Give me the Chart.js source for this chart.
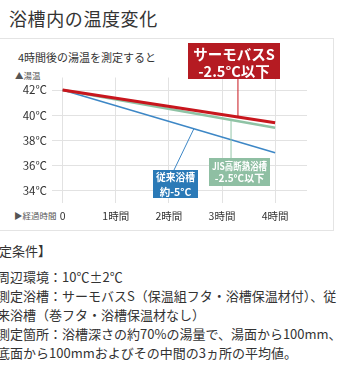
<!DOCTYPE html>
<html>
<head>
<meta charset="utf-8">
<script src="https://cdn.jsdelivr.net/npm/chart.js@4"></script>
<style>
  html,body{margin:0;padding:0;background:#fff;}
  body{width:355px;height:368px;position:relative;overflow:hidden;font-family:"Noto Sans CJK JP","Noto Sans",sans-serif;color:#333;}
  .abs{position:absolute;white-space:nowrap;line-height:1;}
  #frame{position:absolute;left:-1px;top:38px;width:335px;height:193px;border:1px solid #e4e4e4;box-sizing:border-box;}
  #title{left:9px;top:9px;font-size:18px;letter-spacing:0.6px;color:#333;}
  #sub{left:18px;top:52px;font-size:11px;color:#333;}
  #yname{left:15px;top:71px;font-size:8.5px;color:#555;}
  #xname{left:14px;top:211px;font-size:8.5px;color:#555;}
  canvas{position:absolute;left:0;top:0;}
  .note{position:absolute;white-space:nowrap;font-size:13px;line-height:1;color:#333;}
</style>
</head>
<body>
<div id="frame"></div>
<div class="abs" id="title">浴槽内の温度変化</div>
<div class="abs" id="sub">4時間後の湯温を測定すると</div>
<div class="abs" id="yname">▲湯温</div>
<div class="abs" id="xname">▶経過時間</div>
<canvas id="c" width="355" height="240"></canvas>
<div class="note" style="left:-27px;top:244px;">【測定条件】</div>
<div class="note" style="left:-3px;top:270px;">周辺環境：10℃±2℃</div>
<div class="note" style="left:-3px;top:289px;">測定浴槽：サーモバスS（保温組フタ・浴槽保温材付）、従</div>
<div class="note" style="left:-3px;top:308px;">来浴槽（巻フタ・浴槽保温材なし）</div>
<div class="note" style="left:-3px;top:327px;">測定箇所：浴槽深さの約70%の湯量で、湯面から100mm、</div>
<div class="note" style="left:-3px;top:346px;">底面から100mmおよびその中間の3ヵ所の平均値。</div>
<script>
// ---- data ----
const hours = [0, 4];
const thermoBath = [42, 39.4];     // サーモバスS
const jisBath = [42, 39.0];        // JIS高断熱浴槽
const conventional = [42, 37.0];   // 従来浴槽
const xTickValues = [0, 1, 2, 3, 4];
const xTickLabels = ['0', '1時間', '2時間', '3時間', '4時間'];
const yTickValues = [34, 36, 38, 40, 42];
const seriesNames = ['サーモバスS', 'JIS高断熱浴槽', '従来浴槽'];

const FONT = '"Noto Sans CJK JP","Noto Sans",sans-serif';

function pts(ys){ return hours.map((h,i)=>({x:h,y:ys[i]})); }
function interp(ys, x){
  const t = (x - hours[0]) / (hours[1] - hours[0]);
  return ys[0] + (ys[1] - ys[0]) * t;
}

const callouts = [
  {series: thermoBath, at: 3.3, box:[188,43,92,36], fill:'#b51b22', line:'#c8161d',
   texts:[['サーモバスS', 54.5],['-2.5°C以下', 71.5]], font:'bold 14.5px ', end:[null,79]},
  {series: jisBath, at: 3.17, box:[209,158,61,28], fill:'#8fbfa3', line:'#93c5a8',
   texts:[['JIS高断熱浴槽', 166.5],['-2.5°C以下', 178.5]], font:'bold 10px ', end:[null,158]},
  {series: conventional, at: 2.47, box:[153,170,45,28], fill:'#2b7ab7', line:'#3d87c6',
   texts:[['従来浴槽', 177.5],['約-5°C', 192]], font:'bold 10.5px ', end:[174,170]}
];

const calloutPlugin = {
  id:'callouts',
  afterDatasetsDraw(chart){
    const ctx = chart.ctx, xs = chart.scales.x, ys = chart.scales.y;
    ctx.save();
    callouts.forEach(c=>{
      const px = xs.getPixelForValue(c.at);
      const py = ys.getPixelForValue(interp(c.series, c.at));
      const ex = c.end[0] === null ? px : c.end[0];
      ctx.strokeStyle = c.line; ctx.lineWidth = 1;
      ctx.beginPath(); ctx.moveTo(px, py); ctx.lineTo(ex, c.end[1]); ctx.stroke();
      const [bx,by,bw,bh] = c.box;
      ctx.fillStyle = c.fill; ctx.fillRect(bx,by,bw,bh);
      ctx.fillStyle = '#fff'; ctx.textAlign='center'; ctx.textBaseline='middle';
      ctx.font = c.font + FONT;
      c.texts.forEach(([t,y])=>ctx.fillText(t, bx+bw/2, y, bw-6));
    });
    ctx.restore();
  }
};

new Chart(document.getElementById('c'), {
  type:'line',
  data:{
    datasets:[
      {label:seriesNames[0], data:pts(thermoBath), borderColor:'#c8161d', borderWidth:3, pointRadius:0, order:0},
      {label:seriesNames[1], data:pts(jisBath), borderColor:'#8fc3a5', borderWidth:2.5, pointRadius:0, order:1},
      {label:seriesNames[2], data:pts(conventional), borderColor:'#3d87c6', borderWidth:1.5, pointRadius:0, order:2}
    ]
  },
  options:{
    responsive:false, animation:false, devicePixelRatio:1,
    layout:{padding:{top:77.5, right:48, left:0, bottom:0}},
    plugins:{legend:{display:false}, tooltip:{enabled:false}},
    scales:{
      x:{type:'linear', min:-0.2, max:4.6,
        afterBuildTicks:s=>{s.ticks = xTickValues.map(v=>({value:v}));},
        afterFit:s=>{s.height = 37;},
        ticks:{autoSkip:false, maxRotation:0, padding:7, color:'#333',
          font:{family:FONT, size:10.5},
          callback:(v)=>{const i = xTickValues.indexOf(v); return i>=0 ? xTickLabels[i] : '';}},
        grid:{color:'#e2e2e2', drawTicks:false}, border:{display:false}},
      y:{min:33, max:43,
        afterBuildTicks:s=>{s.ticks = yTickValues.map(v=>({value:v}));},
        afterFit:s=>{s.width = 52;},
        ticks:{padding:5, color:'#333', font:{family:FONT, size:11.5},
          callback:v=>v+'℃'},
        grid:{color:'#e2e2e2', drawTicks:false}, border:{display:false}}
    }
  },
  plugins:[calloutPlugin]
});
</script>
</body>
</html>
